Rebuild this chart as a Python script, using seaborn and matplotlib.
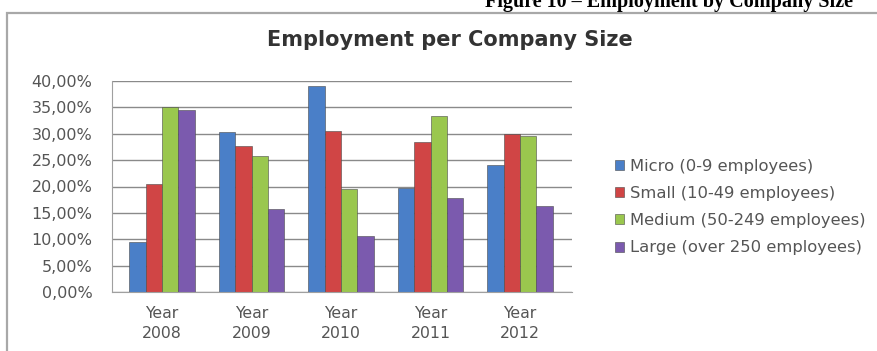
import matplotlib
matplotlib.use("Agg")
import matplotlib.pyplot as plt
import matplotlib.patches as mpatches
from matplotlib.ticker import FuncFormatter, MultipleLocator
import seaborn as sns
import pandas as pd

years = ["Year\n2008", "Year\n2009", "Year\n2010", "Year\n2011", "Year\n2012"]
series = ["Micro (0-9 employees)", "Small (10-49 employees)",
          "Medium (50-249 employees)", "Large (over 250 employees)"]
micro = [0.095, 0.304, 0.390, 0.197, 0.240]
small = [0.205, 0.277, 0.306, 0.285, 0.299]
medium = [0.350, 0.258, 0.196, 0.334, 0.295]
large = [0.345, 0.157, 0.106, 0.178, 0.163]
colors = ["#4a7fc8", "#d04545", "#9ac74e", "#7b5aae"]

rows = []
for name, vals in zip(series, [micro, small, medium, large]):
    for y, v in zip(years, vals):
        rows.append({"year": y, "size": name, "share": v})
df = pd.DataFrame(rows)

sns.set_style("white")
plt.rcParams["font.family"] = ["DejaVu Sans"]

W, H = 878, 351
fig = plt.figure(figsize=(W / 100, H / 100), dpi=100)
fig.patch.set_facecolor("white")

# chart frame
frame = mpatches.Rectangle((7 / W, -0.2), 1.2, (H - 13) / H + 0.2,
                           transform=fig.transFigure, fill=False,
                           edgecolor="#a8a8a8", linewidth=1.6, clip_on=False)
fig.patches.append(frame)

ax = fig.add_axes([112 / W, 59 / H, 460 / W, 211 / H])
sns.barplot(data=df, x="year", y="share", hue="size", palette=colors,
            width=0.73, gap=0, saturation=1, ax=ax,
            edgecolor="#4a4a4a", linewidth=0.4)

ax.set_ylim(0, 0.40)
ax.set_xlim(-0.56, 4.58)
ax.yaxis.set_major_locator(MultipleLocator(0.05))
ax.yaxis.set_major_formatter(FuncFormatter(lambda v, p: f"{v*100:.2f}%".replace(".", ",")))
ax.set_axisbelow(True)
ax.grid(axis="y", color="#8a8a8a", linewidth=1.0)
ax.set_xlabel("")
ax.set_ylabel("")
ax.spines["right"].set_visible(False)
ax.spines["top"].set_visible(False)
ax.spines["left"].set_color("#a0a0a0")
ax.spines["bottom"].set_color("#a0a0a0")
ax.tick_params(axis="y", length=0, pad=14, labelsize=11.5, labelcolor="#555555")
ax.tick_params(axis="x", length=0, pad=10, labelsize=11.3, labelcolor="#555555")
for t in ax.get_xticklabels():
    t.set_linespacing(1.4)

leg = ax.legend(loc="center left", bbox_to_anchor=(608 / W, 1 - 207 / H),
                bbox_transform=fig.transFigure, frameon=False,
                fontsize=11.8, handlelength=0.55, handleheight=0.55,
                handletextpad=0.4, labelspacing=0.75, borderaxespad=0)
for t in leg.get_texts():
    t.set_color("#555555")

fig.text(450 / W, 1 - 40 / H, "Employment per Company Size", ha="center", va="center",
         fontsize=15, fontweight="bold", color="#333333")
fig.text(853 / W, 1 - 7 / H, "Figure 10 \u2013 Employment by Company Size",
         ha="right", va="baseline", fontsize=14.5, fontweight="bold",
         family=["Liberation Serif"], color="black")

fig.savefig("out.png", dpi=100)
